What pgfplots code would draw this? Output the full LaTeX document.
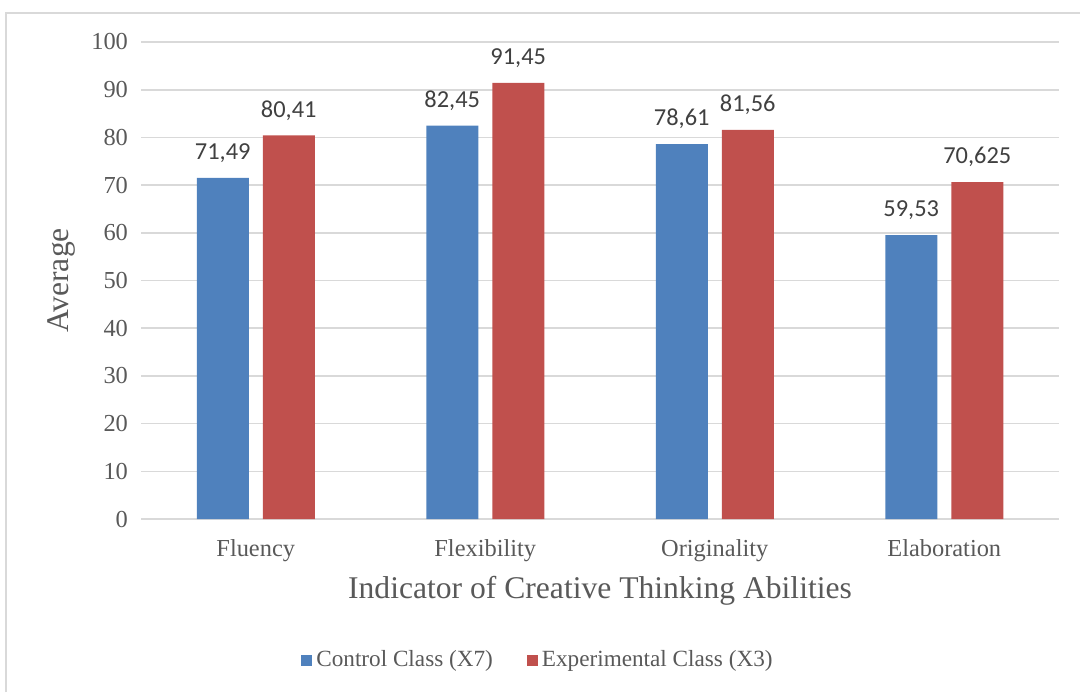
\documentclass[border=0pt]{standalone}
\usepackage{fontspec}
\setmainfont{Liberation Serif}
\newfontfamily\calibri{Carlito}
\usepackage{pgfplots}
\usepackage{pgfplotstable}
\pgfplotsset{compat=1.18}
\definecolor{cblue}{HTML}{4F81BD}
\definecolor{cred}{HTML}{C0504D}
\definecolor{ctext}{HTML}{595959}
\definecolor{clab}{HTML}{404040}
\definecolor{cgrid}{HTML}{D9D9D9}
\pgfplotstableread{
x y lab
0 71.49 71,49
1 82.45 82,45
2 78.61 78,61
3 59.53 59,53
}\control
\pgfplotstableread{
x y lab
0 80.41 80,41
1 91.45 91,45
2 81.56 81,56
3 70.625 70,625
}\experimental
\begin{document}
\begin{tikzpicture}
\useasboundingbox (0,0) rectangle (540pt,346pt);
\draw[cgrid, line width=0.8pt] (3pt,0pt) -- (3pt,339.5pt) -- (540pt,339.5pt);
\begin{axis}[
  at={(70.5pt,86.5pt)}, anchor=south west,
  scale only axis, width=459pt, height=238.5pt,
  ybar=7pt, bar width=26pt,
  xmin=-0.5, xmax=3.5, ymin=0, ymax=100,
  xtick=data, xticklabels={Fluency,Flexibility,Originality,Elaboration},
  ytick={0,10,...,100},
  major tick length=0pt,
  axis line style={draw=none},
  ymajorgrids, grid style={cgrid, line width=0.8pt},
  /pgf/number format/assume math mode=true,
  tick label style={font=\fontsize{12.2}{14}\selectfont, text=ctext},
  yticklabel style={xshift=-3pt},
  xticklabel style={yshift=-6.5pt},
  ylabel={Average}, xlabel={Indicator of Creative Thinking Abilities},
  label style={font=\fontsize{15.8}{18}\selectfont, text=ctext},
  ylabel style={yshift=1pt},
  xlabel style={yshift=-0.5pt},
  nodes near coords, point meta=explicit symbolic,
  every node near coord/.append style={font=\calibri\fontsize{12.2}{14}\selectfont, text=clab, yshift=4pt},
  legend columns=2,
  legend style={at={(0.4335,-0.2956)}, anchor=center, draw=none, fill=none,
    font=\fontsize{11.6}{13}\selectfont, text=ctext,
    /tikz/every even column/.append style={column sep=15pt}},
  legend image code/.code={\fill[#1] (0pt,-2.75pt) rectangle (5.5pt,2.75pt);},
]
\addplot[fill=cblue, draw=none] table[x=x, y=y, meta=lab] {\control};
\addplot[fill=cred, draw=none] table[x=x, y=y, meta=lab] {\experimental};
\legend{Control Class (X7), Experimental Class (X3)}
\end{axis}
\end{tikzpicture}
\end{document}
